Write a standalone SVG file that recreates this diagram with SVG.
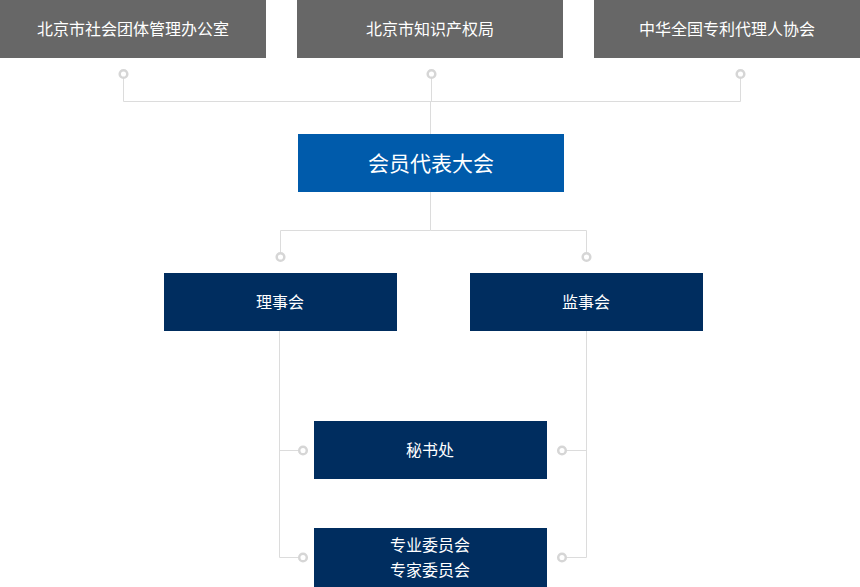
<svg xmlns="http://www.w3.org/2000/svg" width="860" height="587" viewBox="0 0 860 587">
<style>
text{font-family:"Noto Sans CJK SC","Noto Sans",sans-serif;fill:#fff;text-anchor:middle}
.top{fill:#676767}.navy{fill:#002d5f}
.ln{stroke:#dcdcdc;stroke-width:1;fill:none}
.dot{fill:#fff;stroke:#d6d6d6;stroke-width:2.5}
.t16{font-size:16px}
</style>
<g id="connectors">
<path class="ln" d="M123.5 78V101.5H740.5V78M431.5 78V101.5M430.5 101V134M430.5 192V230.5H280.5V253M430.5 230.5H586.5V253M279.5 331V557.5H299M279.5 450.5H299M586.5 331V557.5H566M586.5 450.5H566"/>
<circle class="dot" cx="123.5" cy="74" r="3.8"/><circle class="dot" cx="431.5" cy="74" r="3.8"/><circle class="dot" cx="740.5" cy="74" r="3.8"/>
<circle class="dot" cx="280.5" cy="257" r="3.8"/><circle class="dot" cx="586.5" cy="257" r="3.8"/>
<circle class="dot" cx="303" cy="450.5" r="3.8"/><circle class="dot" cx="303" cy="557.5" r="3.8"/>
<circle class="dot" cx="562" cy="450.5" r="3.8"/><circle class="dot" cx="562" cy="557.5" r="3.8"/>
</g>
<g id="n1"><rect class="top" x="0" y="0" width="266" height="58"/><text class="t16" x="133" y="35">北京市社会团体管理办公室</text></g>
<g id="n2"><rect class="top" x="297" y="0" width="266" height="58"/><text class="t16" x="430" y="35">北京市知识产权局</text></g>
<g id="n3"><rect class="top" x="594" y="0" width="266" height="58"/><text class="t16" x="727" y="35">中华全国专利代理人协会</text></g>
<g id="n4"><rect x="298" y="134" width="266" height="58" fill="#005bab"/><text x="431" y="171" font-size="21">会员代表大会</text></g>
<g id="n5"><rect class="navy" x="164" y="273" width="233" height="58"/><text class="t16" x="280" y="308">理事会</text></g>
<g id="n6"><rect class="navy" x="470" y="273" width="233" height="58"/><text class="t16" x="586" y="308">监事会</text></g>
<g id="n7"><rect class="navy" x="314" y="421" width="233" height="58"/><text class="t16" x="430" y="456">秘书处</text></g>
<g id="n8"><rect class="navy" x="314" y="528" width="233" height="59"/><text class="t16" x="430" y="551">专业委员会</text><text class="t16" x="430" y="576">专家委员会</text></g>
</svg>
